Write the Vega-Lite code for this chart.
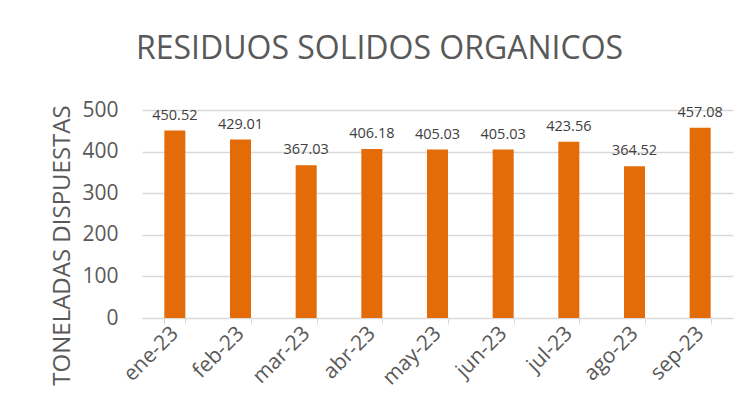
{
  "$schema": "https://vega.github.io/schema/vega-lite/v6.json",
  "autosize": "none",
  "width": 591,
  "height": 208,
  "padding": {"left": 142, "top": 110, "right": 5, "bottom": 100},
  "background": "white",
  "title": {
    "text": "RESIDUOS SOLIDOS ORGANICOS",
    "font": "Open Sans",
    "fontSize": 32,
    "fontWeight": "normal",
    "color": "#595959",
    "anchor": "middle",
    "dx": -58,
    "offset": 33
  },
  "config": {
    "view": {"stroke": null},
    "font": "Open Sans"
  },
  "data": {
    "values": [
      {"mes": "ene-23", "t": 450.52},
      {"mes": "feb-23", "t": 429.01},
      {"mes": "mar-23", "t": 367.03},
      {"mes": "abr-23", "t": 406.18},
      {"mes": "may-23", "t": 405.03},
      {"mes": "jun-23", "t": 405.03},
      {"mes": "jul-23", "t": 423.56},
      {"mes": "ago-23", "t": 364.52},
      {"mes": "sep-23", "t": 457.08}
    ]
  },
  "encoding": {
    "x": {
      "field": "mes",
      "type": "nominal",
      "sort": null,
      "scale": {"paddingInner": 0.68, "paddingOuter": 0.34},
      "axis": {
        "title": null,
        "labelAngle": -45,
        "labelAlign": "right",
        "labelBaseline": "middle",
        "labelFont": "Open Sans",
        "labelFontSize": 21,
        "labelColor": "#595959",
        "labelPadding": 6,
        "labelDy": 10,
        "labelDx": 4,
        "domainColor": "#d9d9d9",
        "tickColor": "#d9d9d9",
        "tickBand": "extent",
        "tickSize": 6,
        "grid": false
      }
    },
    "y": {
      "field": "t",
      "type": "quantitative",
      "scale": {"domain": [0, 500]},
      "axis": {
        "values": [0, 100, 200, 300, 400, 500],
        "title": "TONELADAS DISPUESTAS",
        "titleFont": "Open Sans",
        "titleFontSize": 24,
        "titleFontWeight": "normal",
        "titleColor": "#595959",
        "titleAngle": -90,
        "titleX": -80,
        "titleY": 135,
        "titleAlign": "center",
        "titleBaseline": "middle",
        "labelFont": "Open Sans",
        "labelFontSize": 21,
        "labelColor": "#595959",
        "labelPadding": 24,
        "domain": false,
        "ticks": false,
        "gridColor": "#d9d9d9",
        "gridWidth": 1.5
      }
    }
  },
  "layer": [
    {"mark": {"type": "bar", "color": "#E36C09"}},
    {
      "mark": {"type": "text", "baseline": "bottom", "dy": -8, "fontSize": 14.5, "color": "#404040", "font": "Open Sans"},
      "encoding": {"text": {"field": "t", "type": "quantitative", "format": ".2f"}}
    }
  ]
}
